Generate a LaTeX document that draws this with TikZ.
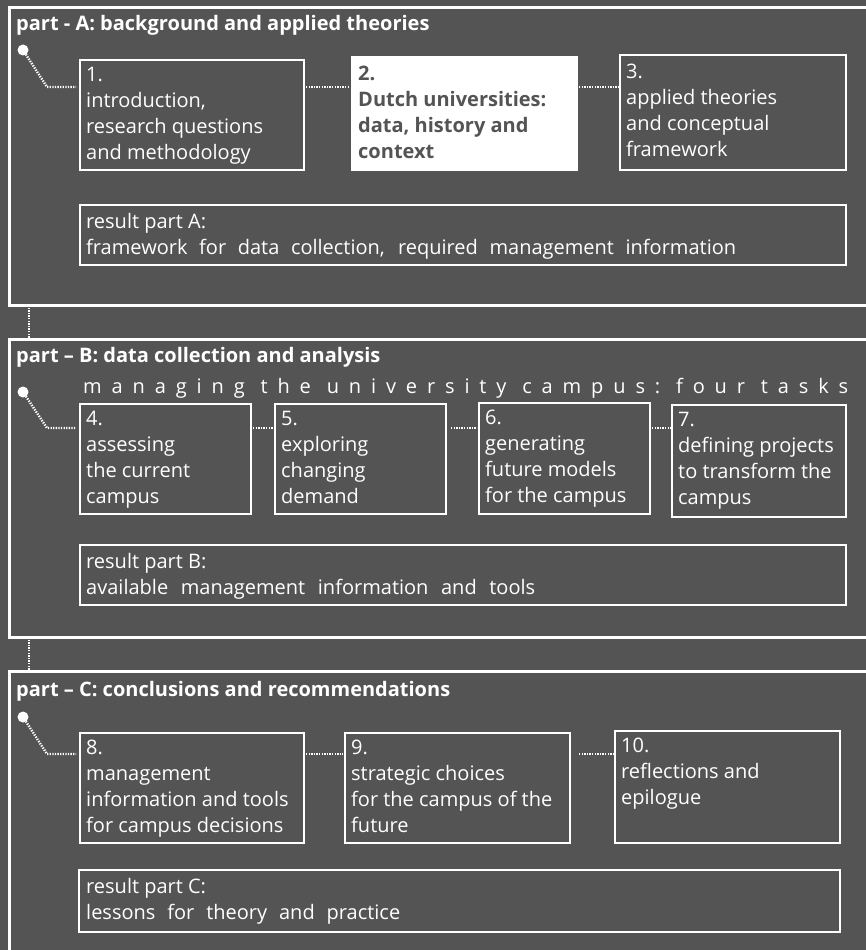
\documentclass[tikz,border=0pt]{standalone}
\usepackage{fontspec}
\setmainfont{Open Sans}
\definecolor{slate}{HTML}{545454}
\tikzset{
  panel/.style={draw=white, line width=3pt, anchor=north west, inner sep=0pt, outer sep=0pt},
  stepbox/.style={draw=white, line width=2.4pt, anchor=north west, inner sep=0pt, outer sep=0pt},
  link/.style={draw=white, line width=2.4pt, dash pattern=on 1.3pt off 1.3pt},
  hub/.style={circle, fill=white, minimum size=11pt, inner sep=0pt},
  body/.style={text=white, font=\fontsize{20}{26}\selectfont, align=left, anchor=north west, inner sep=0pt},
  heading/.style={text=white, font=\bfseries\fontsize{20}{24}\selectfont, anchor=base west, inner sep=0pt},
}
% gap between spread words of the subtitle
\newcommand{\wordgap}{\hskip 0pt plus 1.6fil\relax}
\begin{document}
\begin{tikzpicture}[x=1pt, y=-1pt]
\useasboundingbox (0,0) rectangle (866,950);
\clip (0,0) rectangle (866,950);
\fill[slate] (0,0) rectangle (866,950);

% ---------- panels ----------
\node[panel, minimum width=881pt, minimum height=297pt] (pa) at (9,8) {};
\node[panel, minimum width=881pt, minimum height=298pt] (pb) at (9,339) {};
\node[panel, minimum width=881pt, minimum height=300pt] (pc) at (9,671) {};

\draw[link] ([xshift=20pt]pa.south west) -- ([xshift=20pt]pb.north west);
\draw[link] ([xshift=20pt]pb.south west) -- ([xshift=20pt]pc.north west);

% ---------- part A ----------
\node[heading] (ta) at (16,31) {part - A: background and applied theories};

\node[stepbox, minimum width=224pt, minimum height=110pt] (b1) at (80,60) {};
\node[stepbox, fill=white, minimum width=225pt, minimum height=113pt] (b2) at (352,57) {};
\node[stepbox, minimum width=226pt, minimum height=115pt] (b3) at (620,55) {};
\node[stepbox, minimum width=766pt, minimum height=60pt] (ra) at (80,205) {};

\node[body] (t1) at (86,67) {1.\\introduction,\\research questions\\and methodology};
\node[body, text=slate, font=\bfseries\fontsize{20}{26}\selectfont] (t2) at (358,66) {2.\\Dutch universities:\\data, history and\\context};
\node[body] (t3) at (626,64) {3.\\applied theories\\and conceptual\\framework};
\node[body] (tra) at (86,213) {result part A:\\\makebox[650pt][s]{framework for data collection, required management information}};

\node[hub] (ha) at (23,50) {};
\coordinate (ka) at (47,87);
\draw[link] (ha.center) -- (ka) -- ([xshift=-4pt]ka -| b1.west);
\draw[link, shorten <=2pt, shorten >=2pt] (b1.east |- ka) -- (b2.west |- ka);
\draw[link, shorten <=2pt] (b2.east |- ka) -- (b3.west |- ka);

% ---------- part B ----------
\node[heading] (tb) at (16,362) {part -- B: data collection and analysis};
\node[text=white, font=\fontsize{20}{26}\selectfont, anchor=base west, inner sep=0pt] (sub) at (83,393)
  {\hbox to 765pt{m\hfil a\hfil n\hfil a\hfil g\hfil i\hfil n\hfil g\wordgap
   t\hfil h\hfil e\wordgap
   u\hfil n\hfil i\hfil v\hfil e\hfil r\hfil s\hfil i\hfil t\hfil y\wordgap
   c\hfil a\hfil m\hfil p\hfil u\hfil s\hfil :\wordgap
   f\hfil o\hfil u\hfil r\wordgap
   t\hfil a\hfil s\hfil k\hfil s}};

\node[stepbox, minimum width=171pt, minimum height=110pt] (b4) at (80,404) {};
\node[stepbox, minimum width=171pt, minimum height=110pt] (b5) at (275,404) {};
\node[stepbox, minimum width=171pt, minimum height=111pt] (b6) at (479,403) {};
\node[stepbox, minimum width=174pt, minimum height=112pt] (b7) at (672,405) {};
\node[stepbox, minimum width=766pt, minimum height=60pt] (rb) at (80,545) {};

\node[body] (t4) at (86,411) {4.\\assessing\\the current\\campus};
\node[body] (t5) at (281,411) {5.\\exploring\\changing\\demand};
\node[body] (t6) at (485,410) {6.\\generating\\future models\\for the campus};
\node[body] (t7) at (678,412) {7.\\defining projects\\to transform the\\campus};
\node[body] (trb) at (86,553) {result part B:\\\makebox[449pt][s]{available management information and tools}};

\node[hub] (hb) at (23,392) {};
\coordinate (kb) at (47,428);
\draw[link] (hb.center) -- (kb) -- ([xshift=-4pt]kb -| b4.west);
\draw[link, shorten <=2pt, shorten >=2pt] (b4.east |- kb) -- (b5.west |- kb);
\draw[link, shorten <=5pt, shorten >=2pt] (b5.east |- kb) -- (b6.west |- kb);
\draw[link, shorten <=2pt] (b6.east |- kb) -- (b7.west |- kb);

% ---------- part C ----------
\node[heading] (tc) at (16,696) {part -- C: conclusions and recommendations};

\node[stepbox, minimum width=224pt, minimum height=110pt] (b8) at (80,733) {};
\node[stepbox, minimum width=225pt, minimum height=110pt] (b9) at (345,733) {};
\node[stepbox, minimum width=225pt, minimum height=112pt] (b10) at (615,731) {};
\node[stepbox, minimum width=761pt, minimum height=62pt] (rc) at (79,870) {};

\node[body] (t8) at (86,740) {8.\\management\\information and tools\\for campus decisions};
\node[body] (t9) at (351,740) {9.\\strategic choices\\for the campus of the\\future};
\node[body] (t10) at (621,738) {10.\\reflections and\\epilogue};
\node[body] (trc) at (86,878) {result part C:\\\makebox[314pt][s]{lessons for theory and practice}};

\node[hub] (hc) at (23,717) {};
\coordinate (kc) at (47,754);
\draw[link] (hc.center) -- (kc) -- ([xshift=-4pt]kc -| b8.west);
\draw[link, shorten <=2pt, shorten >=2pt] (b8.east |- kc) -- (b9.west |- kc);
\draw[link, shorten <=9pt] (b9.east |- kc) -- (b10.west |- kc);
\end{tikzpicture}
\end{document}
